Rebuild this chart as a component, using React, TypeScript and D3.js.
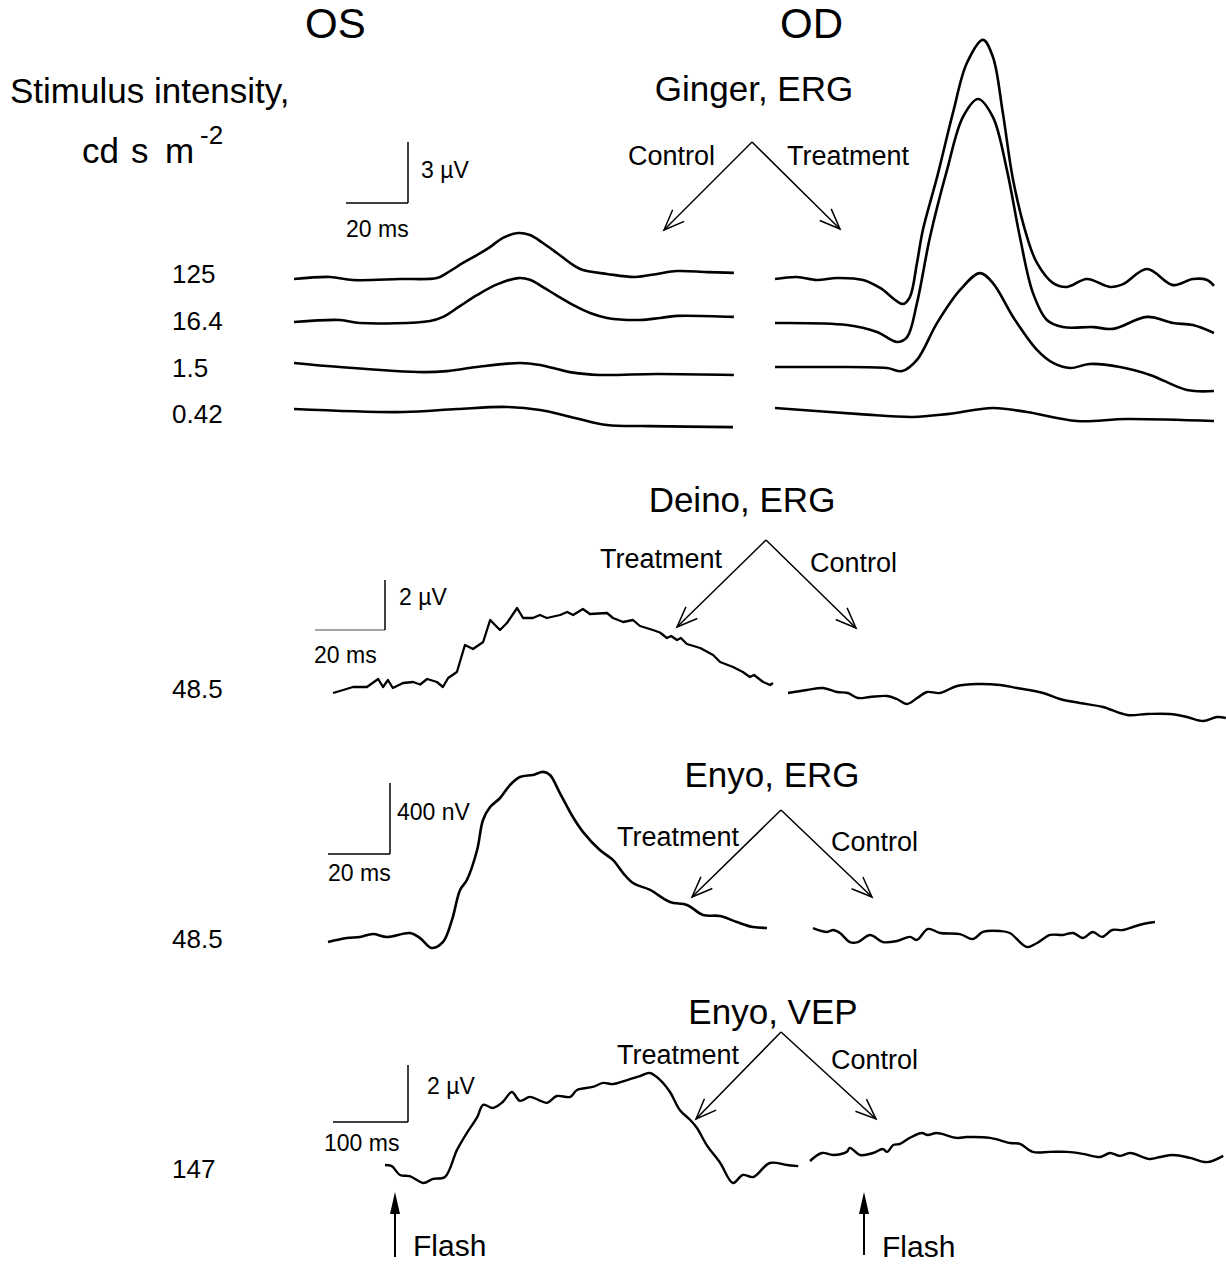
import React from "react";
import * as d3 from "d3";

type Pt = [number, number]; // [time (ms), amplitude]

// ---------- Ginger, ERG (ms, µV) ----------
const gingerIntensities = ["125", "16.4", "1.5", "0.42"];

const gingerOS125: Pt[] = [
  [0, 0], [11.6, 0.1], [19, -0.05], [34.2, 0], [46.1, 0.05], [49.4, 0.3], [54.5, 0.79], [59, 1.18],
  [63.2, 1.57], [67.4, 2.02], [72.3, 2.26], [76.1, 2.16], [80.3, 1.77], [84.8, 1.28], [90, 0.69],
  [93.2, 0.44], [101, 0.25], [110, 0.1], [117.1, 0.25], [123.5, 0.39], [133.2, 0.34], [141.9, 0.3],
];
const gingerOS16: Pt[] = [
  [0, 0], [14.8, 0.1], [21.3, -0.05], [43.9, 0.05], [48.1, 0.25], [53.5, 0.78], [59, 1.32],
  [65.5, 1.85], [72.3, 2.16], [76.1, 2.08], [80.3, 1.72], [84.8, 1.3], [90, 0.84], [95.5, 0.44],
  [101, 0.2], [111.6, 0.1], [118.1, 0.2], [123.5, 0.3], [141.9, 0.25],
];
const gingerOS1_5: Pt[] = [
  [0, 0.15], [14.8, -0.05], [41.6, -0.3], [49.4, -0.25], [59, -0.05], [72.9, 0.15], [79.4, 0.05],
  [89, -0.3], [98.7, -0.44], [117.1, -0.39], [141.9, -0.44],
];
const gingerOS0_42: Pt[] = [
  [0, 0], [35.2, -0.15], [52.6, 0], [68.7, 0.1], [79.4, -0.05], [90.6, -0.44], [101, -0.79],
  [114.8, -0.84], [141.6, -0.89],
];

const gingerOD125: Pt[] = [
  [0, 0], [7.1, 0.1], [13.5, -0.05], [20, 0.05], [28.4, -0.05], [33.9, -0.44], [41.3, -1.23],
  [43.5, -0.89], [45.8, 0.79], [47.7, 2.41], [52.3, 5.02], [57.4, 8.17], [61.9, 10.62], [67.1, 11.76],
  [70.3, 10.92], [73.5, 8.17], [76.8, 4.87], [81.3, 2.07], [84.5, 0.79], [89.7, -0.2], [94.2, -0.39],
  [100.6, 0], [108.1, -0.39], [112.3, -0.25], [120, 0.49], [128.4, -0.3], [134.8, 0], [139.4, -0.05],
  [141.6, -0.34],
];
const gingerOD16: Pt[] = [
  [0, -0.05], [23.2, -0.15], [32.9, -0.49], [39.4, -0.98], [42.6, -0.74], [45.8, 0.93], [50, 4.18],
  [55.5, 7.48], [60.6, 10.08], [65.5, 10.97], [70.3, 10.08], [74.8, 7.48], [79, 4.18], [83.2, 1.43],
  [87.7, 0.1], [92.9, -0.25], [102.6, -0.25], [109, -0.34], [120, 0.25], [128.4, -0.05], [134.8, -0.15],
  [141.6, -0.54],
];
const gingerOD1_5: Pt[] = [
  [0, -0.05], [16.8, -0.05], [36.1, -0.1], [41, -0.25], [45.8, 0.3], [52.3, 2.12], [59.7, 3.74],
  [66.1, 4.57], [70.3, 4.08], [76.8, 2.41], [84.5, 0.79], [89.7, 0.15], [95.2, -0.1], [101.6, 0.1],
  [111.3, -0.05], [121, -0.44], [132.9, -1.18], [141.6, -1.23],
];
const gingerOD0_42: Pt[] = [
  [0, 0.05], [27.4, -0.25], [44.5, -0.39], [55.5, -0.25], [70.3, 0.05], [81.3, -0.15], [97.4, -0.59],
  [113.5, -0.49], [141.6, -0.59],
];

// ---------- Deino, ERG (ms, µV) ----------
const deinoTreatment: Pt[] = [
  [0, -0.12], [2.9, 0], [5.7, 0.12], [9.7, 0.12], [12.9, 0.44], [14.3, 0.12], [15.7, 0.4], [17.1, 0.08],
  [20, 0.28], [22.9, 0.32], [24.9, 0.22], [26.9, 0.44], [29.7, 0.32], [31.4, 0.12], [32.9, 0.48],
  [35.4, 0.72], [37.7, 1.8], [40, 1.64], [42.9, 1.92], [44.9, 2.8], [47.7, 2.4], [49.7, 2.68],
  [52.6, 3.28], [54.3, 2.88], [57.1, 2.88], [59.1, 3.0], [61.1, 2.88], [64.9, 3.0], [66.9, 3.12],
  [68.6, 3.0], [71.4, 3.24], [73.4, 3.04], [78.3, 3.08], [80, 2.88], [82.9, 2.72], [85.7, 2.8],
  [87.7, 2.56], [91.4, 2.4], [93.4, 2.3], [95.4, 2.08], [96.6, 2.16], [98.3, 2.0], [99.4, 2.08],
  [101.1, 1.84], [104.9, 1.68], [108.6, 1.4], [110.6, 1.12], [114.3, 0.92], [117.1, 0.72],
  [119.1, 0.52], [120.3, 0.6], [122.9, 0.32], [124.9, 0.2], [125.7, 0.28],
];
const deinoControl: Pt[] = [
  [0, 0], [5.4, 0.12], [10, 0.2], [14, 0.04], [17.1, 0], [20, -0.2], [23.4, -0.16], [28.3, -0.12],
  [31.1, -0.24], [34, -0.44], [36.9, -0.2], [39.7, 0.04], [43.4, 0], [48.3, 0.28], [54, 0.36],
  [60.6, 0.32], [65.4, 0.2], [72.9, 0], [77.7, -0.24], [83.4, -0.4], [90, -0.56], [96.9, -0.88],
  [102.6, -0.84], [109.1, -0.84], [114, -0.96], [118.6, -1.12], [122.6, -0.96], [125.1, -1.0],
];

// ---------- Enyo, ERG (ms, nV) ----------
const enyoErgTreatment: Pt[] = [
  [0, -11], [6.1, 11], [10.3, 17], [14.5, 34], [19, 17], [26.5, 39], [29.7, 11], [33.5, -45],
  [37.1, -11], [40, 113], [42.6, 282], [44.8, 338], [48.1, 507], [50, 676], [52.3, 749], [55.5, 800],
  [58.7, 873], [61.9, 918], [66.1, 930], [69.4, 947], [71.6, 930], [74.8, 828], [79, 693], [82.3, 608],
  [87.7, 507], [91.9, 451], [95.2, 377], [98.4, 321], [103.9, 282], [110.3, 214], [115.8, 197],
  [121, 141], [126.5, 135], [131.9, 101], [137.1, 73], [141.6, 68],
];
const enyoErgControl: Pt[] = [
  [0, 11], [4.5, -11], [6.5, 0], [8.7, -17], [11.9, -68], [14.5, -68], [18.4, -28], [22.6, -68],
  [27.1, -62], [31.3, -39], [33.5, -56], [37.1, 6], [41, -17], [47.4, -23], [51.6, -51], [54.8, -11],
  [60.3, -6], [63.5, -17], [69, -96], [72.3, -73], [76.5, -28], [80.6, -28], [83.9, -17], [87.1, -45],
  [90.3, -11], [93.2, -39], [96.5, 0], [100, 0], [103.2, 17], [106.5, 34], [110.3, 45],
];

// ---------- Enyo, VEP (ms, µV) ----------
const enyoVepTreatment: Pt[] = [
  [0, 0], [9, -0.04], [20, -0.35], [33, -0.39], [51, -0.63], [64, -0.49], [80, -0.42], [96, 0.53],
  [109, 1.12], [123, 1.68], [131, 2.11], [144, 2.0], [157, 2.21], [169, 2.56], [180, 2.25], [193, 2.39],
  [205, 2.28], [216, 2.18], [229, 2.42], [247, 2.39], [256, 2.63], [277, 2.74], [291, 2.88], [304, 2.84],
  [323, 2.98], [340, 3.12], [353, 3.23], [367, 2.98], [380, 2.56], [393, 1.93], [407, 1.58], [416, 1.3],
  [429, 0.7], [447, 0.07], [464, -0.63], [477, -0.35], [491, -0.42], [513, 0.07], [536, 0], [551, -0.04],
];
const enyoVepControl: Pt[] = [
  [0, 0], [16, 0.28], [31, 0.21], [49, 0.32], [53, 0.46], [67, 0.21], [84, 0.28], [97, 0.42],
  [103, 0.32], [111, 0.56], [120, 0.6], [133, 0.81], [149, 0.98], [157, 0.91], [169, 0.98], [196, 0.81],
  [209, 0.84], [240, 0.81], [267, 0.63], [280, 0.6], [297, 0.32], [320, 0.32], [343, 0.32], [364, 0.25],
  [387, 0.14], [400, 0.28], [413, 0.18], [427, 0.28], [453, 0.07], [467, 0.14], [484, 0.21], [507, 0.11],
  [529, -0.04], [551, 0.18],
];

const FONT = "'Liberation Sans', Arial, sans-serif";

function trace(
  data: Pt[],
  x0: number,
  base: number,
  msPx: number,
  unitPx: number,
  curve: d3.CurveFactory
) {
  const xs = d3.scaleLinear().domain([0, 1]).range([x0, x0 + msPx]);
  const ys = d3.scaleLinear().domain([0, 1]).range([base, base - unitPx]);
  return d3
    .line<Pt>()
    .x((d) => xs(d[0]))
    .y((d) => ys(d[1]))
    .curve(curve)(data) as string;
}

function Arrow({ x1, y1, x2, y2 }: { x1: number; y1: number; x2: number; y2: number }) {
  const ang = Math.atan2(y2 - y1, x2 - x1);
  const L = 22;
  const a = 0.38;
  const b1 = [x2 - L * Math.cos(ang - a), y2 - L * Math.sin(ang - a)];
  const b2 = [x2 - L * Math.cos(ang + a), y2 - L * Math.sin(ang + a)];
  return (
    <g stroke="#000" strokeWidth={1.5} fill="none">
      <line x1={x1} y1={y1} x2={x2} y2={y2} />
      <polyline points={`${b1[0]},${b1[1]} ${x2},${y2} ${b2[0]},${b2[1]}`} />
    </g>
  );
}

function ScaleBar({
  cx,
  cy,
  w,
  h,
  hColor = "#000",
}: {
  cx: number;
  cy: number;
  w: number;
  h: number;
  hColor?: string;
}) {
  return (
    <g strokeWidth={1.5}>
      <line x1={cx - w} y1={cy} x2={cx} y2={cy} stroke={hColor} />
      <line x1={cx} y1={cy} x2={cx} y2={cy - h} stroke="#000" />
    </g>
  );
}

function FlashArrow({ x, yTip, yEnd }: { x: number; yTip: number; yEnd: number }) {
  return (
    <g>
      <line x1={x} y1={yTip + 10} x2={x} y2={yEnd} stroke="#000" strokeWidth={2} />
      <path d={`M${x},${yTip} L${x - 5},${yTip + 22} L${x + 5},${yTip + 22} Z`} fill="#000" />
    </g>
  );
}

export default function App() {
  // Ginger panel scales: 20 ms = 62 px, 3 µV = 61 px
  const gMs = 62 / 20;
  const gUv = 61 / 3;
  const gRows = [279, 322, 366, 409];
  const gingerOS = [gingerOS125, gingerOS16, gingerOS1_5, gingerOS0_42];
  const gingerOD = [gingerOD125, gingerOD16, gingerOD1_5, gingerOD0_42];
  const gLabelY = [283, 330, 377, 423];

  // Deino: 20 ms = 70 px, 2 µV = 50 px
  const dMs = 70 / 20;
  const dUv = 50 / 2;
  // Enyo ERG: 20 ms = 62 px, 400 nV = 71 px
  const eMs = 62 / 20;
  const eNv = 71 / 400;
  // Enyo VEP: 100 ms = 75 px, 2 µV = 57 px
  const vMs = 75 / 100;
  const vUv = 57 / 2;

  const smooth = d3.curveCatmullRom.alpha(0.5);
  const lin = d3.curveLinear;

  const traceStyle = { fill: "none", stroke: "#000", strokeWidth: 2.6, strokeLinejoin: "round" as const };

  return (
    <svg
      width={1226}
      height={1264}
      style={{ position: "absolute", left: 0, top: 0, display: "block", background: "#fff" }}
      fontFamily={FONT}
    >
      <rect x={0} y={0} width={1226} height={1264} fill="#fff" />
      {/* headers */}
      <text x={305} y={38} fontSize={42}>OS</text>
      <text x={780} y={38} fontSize={42}>OD</text>
      <text x={10} y={103} fontSize={35}>Stimulus intensity,</text>
      <text x={82} y={163} fontSize={35}>cd</text>
      <text x={131} y={163} fontSize={35}>s</text>
      <text x={165} y={163} fontSize={35}>m</text>
      <text x={200} y={144} fontSize={26}>-2</text>

      {/* ---------- Ginger ---------- */}
      <text x={754} y={101} fontSize={35} textAnchor="middle">Ginger, ERG</text>
      <text x={628} y={165} fontSize={27}>Control</text>
      <text x={787} y={165} fontSize={27}>Treatment</text>
      <Arrow x1={752} y1={142} x2={664} y2={230} />
      <Arrow x1={752} y1={142} x2={840} y2={229} />
      <ScaleBar cx={408} cy={203} w={20 * gMs} h={3 * gUv} />
      <text x={421} y={178} fontSize={23}>3 {"\u00B5"}V</text>
      <text x={346} y={237} fontSize={23}>20 ms</text>
      {gingerIntensities.map((lab, i) => (
        <text key={lab} x={172} y={gLabelY[i]} fontSize={26}>{lab}</text>
      ))}
      {gingerOS.map((d, i) => (
        <path key={"os" + i} d={trace(d, 294, gRows[i], gMs, gUv, smooth)} {...traceStyle} />
      ))}
      {gingerOD.map((d, i) => (
        <path key={"od" + i} d={trace(d, 775, gRows[i], gMs, gUv, smooth)} {...traceStyle} />
      ))}

      {/* ---------- Deino ---------- */}
      <text x={742} y={512} fontSize={35} textAnchor="middle">Deino, ERG</text>
      <text x={600} y={568} fontSize={27}>Treatment</text>
      <text x={810} y={572} fontSize={27}>Control</text>
      <Arrow x1={766} y1={540} x2={677} y2={627} />
      <Arrow x1={766} y1={540} x2={856} y2={628} />
      <ScaleBar cx={385} cy={630} w={20 * dMs} h={2 * dUv} hColor="#888" />
      <text x={399} y={605} fontSize={23}>2 {"\u00B5"}V</text>
      <text x={314} y={663} fontSize={23}>20 ms</text>
      <text x={172} y={698} fontSize={26}>48.5</text>
      <path d={trace(deinoTreatment, 333, 690, dMs, dUv, lin)} {...traceStyle} strokeWidth={2.3} />
      <path d={trace(deinoControl, 788, 693, dMs, dUv, smooth)} {...traceStyle} strokeWidth={2.4} />

      {/* ---------- Enyo ERG ---------- */}
      <text x={772} y={787} fontSize={35} textAnchor="middle">Enyo, ERG</text>
      <text x={617} y={846} fontSize={27}>Treatment</text>
      <text x={831} y={851} fontSize={27}>Control</text>
      <Arrow x1={781} y1={810} x2={692} y2={897} />
      <Arrow x1={781} y1={810} x2={872} y2={897} />
      <ScaleBar cx={390} cy={854} w={20 * eMs} h={400 * eNv} />
      <text x={397} y={820} fontSize={23}>400 nV</text>
      <text x={328} y={881} fontSize={23}>20 ms</text>
      <text x={172} y={948} fontSize={26}>48.5</text>
      <path d={trace(enyoErgTreatment, 328, 940, eMs, eNv, smooth)} {...traceStyle} />
      <path d={trace(enyoErgControl, 813, 930, eMs, eNv, smooth)} {...traceStyle} strokeWidth={2.4} />

      {/* ---------- Enyo VEP ---------- */}
      <text x={773} y={1024} fontSize={35} textAnchor="middle">Enyo, VEP</text>
      <text x={617} y={1064} fontSize={27}>Treatment</text>
      <text x={831} y={1069} fontSize={27}>Control</text>
      <Arrow x1={781} y1={1032} x2={696} y2={1119} />
      <Arrow x1={781} y1={1032} x2={876} y2={1119} />
      <ScaleBar cx={408} cy={1122} w={100 * vMs} h={2 * vUv} />
      <text x={427} y={1094} fontSize={23}>2 {"\u00B5"}V</text>
      <text x={324} y={1151} fontSize={23}>100 ms</text>
      <text x={172} y={1178} fontSize={26}>147</text>
      <path d={trace(enyoVepTreatment, 385, 1165, vMs, vUv, smooth)} {...traceStyle} strokeWidth={2.4} />
      <path d={trace(enyoVepControl, 810, 1161, vMs, vUv, smooth)} {...traceStyle} strokeWidth={2.4} />

      <FlashArrow x={395} yTip={1192} yEnd={1257} />
      <text x={413} y={1256} fontSize={30}>Flash</text>
      <FlashArrow x={864} yTip={1192} yEnd={1255} />
      <text x={882} y={1257} fontSize={30}>Flash</text>
    </svg>
  );
}
